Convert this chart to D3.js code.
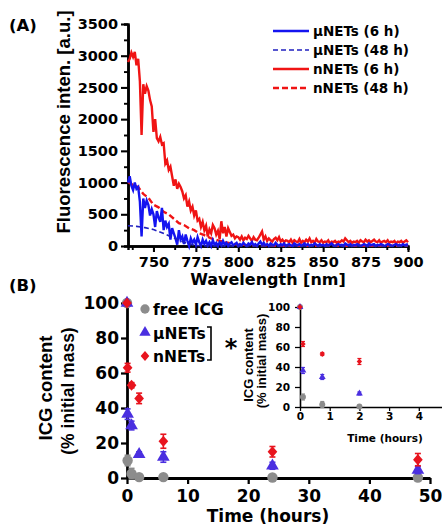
<!DOCTYPE html>
<html>
<head>
<meta charset="utf-8">
<script src="https://cdn.jsdelivr.net/npm/d3@7"></script>
<style>
  html, body { margin: 0; padding: 0; background: #fff; }
  svg { display: block; }
</style>
</head>
<body>
<svg id="chart" width="442" height="530"></svg>
<script>
/* ========================================
   (A) fluorescence spectra  /  (B) ICG retention
   ======================================== */

// ---- Panel A data: emission spectra (1 nm samples) ----
const wavelengths = [
  735, 736, 737, 738, 739, 740, 741, 742, 743, 744,
  745, 746, 747, 748, 749, 750, 751, 752, 753, 754,
  755, 756, 757, 758, 759, 760, 761, 762, 763, 764,
  765, 766, 767, 768, 769, 770, 771, 772, 773, 774,
  775, 776, 777, 778, 779, 780, 781, 782, 783, 784,
  785, 786, 787, 788, 789, 790, 791, 792, 793, 794,
  795, 796, 797, 798, 799, 800, 801, 802, 803, 804,
  805, 806, 807, 808, 809, 810, 811, 812, 813, 814,
  815, 816, 817, 818, 819, 820, 821, 822, 823, 824,
  825, 826, 827, 828, 829, 830, 831, 832, 833, 834,
  835, 836, 837, 838, 839, 840, 841, 842, 843, 844,
  845, 846, 847, 848, 849, 850, 851, 852, 853, 854,
  855, 856, 857, 858, 859, 860, 861, 862, 863, 864,
  865, 866, 867, 868, 869, 870, 871, 872, 873, 874,
  875, 876, 877, 878, 879, 880, 881, 882, 883, 884,
  885, 886, 887, 888, 889, 890, 891, 892, 893, 894,
  895, 896, 897, 898, 899, 900
];

const nNETs6h = [
  2900, 2950, 3050, 2980, 3060, 2850, 2950, 2600, 1750, 2550,
  2400, 2520, 2450, 2300, 2200, 1800, 2000, 1700, 1650, 1720,
  1600, 1620, 1300, 1350, 1200, 1250, 1100, 950, 1050, 900,
  980, 930, 860, 750, 800, 620, 700, 560, 620, 480,
  560, 400, 430, 300, 380, 250, 320, 150, 260, 200,
  330, 280, 180, 240, 110, 390, 200, 300, 150, 280,
  220, 160, 180, 120, 150, 140, 100, 150, 90, 130,
  110, 160, 120, 80, 140, 100, 90, 130, 180, 230,
  100, 150, 80, 120, 90, 70, 110, 130, 90, 140,
  70, 100, 60, 90, 80, 60, 100, 50, 90, 70,
  60, 110, 50, 80, 60, 100, 70, 120, 60, 80,
  50, 110, 70, 60, 90, 50, 70, 60, 90, 40,
  70, 60, 80, 50, 70, 60, 90, 70, 120, 90,
  60, 80, 50, 70, 60, 80, 50, 90, 70, 60,
  100, 70, 90, 60, 80, 100, 70, 60, 90, 50,
  70, 80, 60, 90, 50, 70, 60, 80, 40, 70,
  60, 80, 50, 70, 90, 60
];

const uNETs6h = [
  1000, 1100, 950, 880, 1000, 900, 930, 700, 150, 750,
  600, 720, 650, 480, 580, 500, 300, 550, 450, 380,
  600, 250, 400, 300, 350, 100, 280, 200, 120, 20,
  250, 100, 150, 30, 180, 80, 0, 120, 50, 100,
  20, 140, 60, 0, 100, 30, 80, 10, 60, 0,
  90, 20, 50, 0, 60, 10, 80, 20, 50, 0,
  40, 60, 10, 30, 50, 0, 30, 10, 50, 20,
  0, 40, 20, 60, 10, 30, 0, 40, 70, 20,
  50, 10, 30, 0, 40, 20, 10, 50, 20, 0,
  30, 10, 40, 0, 20, 30, 10, 0, 40, 20,
  10, 30, 0, 20, 40, 10, 30, 0, 20, 10,
  40, 20, 0, 30, 10, 20, 0, 30, 10, 20,
  40, 10, 0, 20, 30, 10, 20, 0, 40, 20,
  10, 30, 0, 20, 10, 30, 20, 0, 10, 30,
  20, 0, 40, 10, 20, 30, 0, 20, 10, 30,
  20, 0, 10, 30, 20, 10, 0, 20, 30, 10,
  20, 0, 30, 10, 20, 30
];

// 48 h spectra are smooth, sampled more coarsely
const wl48n = [735, 738, 741, 744, 747, 750, 753, 756, 759, 762, 765, 768, 771, 774, 777, 780, 784, 788, 792, 796, 800, 810, 820, 840, 860, 880, 900];
const nNETs48h = [1010, 960, 930, 820, 760, 650, 610, 540, 500, 430, 360, 330, 280, 250, 200, 170, 120, 90, 60, 40, 20, 10, 5, 5, 5, 5, 5];
const wl48u = [735, 740, 745, 750, 755, 760, 765, 770, 775, 780, 790, 800, 850, 900];
const uNETs48h = [320, 310, 290, 260, 210, 150, 90, 40, 10, 0, 0, 0, 0, 0];

const yTicksA = [0, 500, 1000, 1500, 2000, 2500, 3000, 3500];
const xTicksA = [750, 775, 800, 825, 850, 875, 900];

// ---- Panel B data: ICG content (% initial mass) ----
const times = [0, 0.1, 0.75, 2, 6, 24, 48];
const freeICG = [100, 10, 2.5, 0.5, 0.5, 0.3, 0.3];
const freeICGErr = [0, 3, 3, 0.5, 0.5, 0.3, 0.3];
const uNETs = [100, 36.5, 30, 13.5, 12, 7, 4.5];
const uNETsErr = [0, 3, 2.5, 1.5, 3, 2, 2];
const nNETs = [100, 63, 53, 45.5, 21, 15, 10.5];
const nNETsErr = [0, 2.5, 1.5, 3, 4, 3, 3.5];

const yTicksB = [0, 20, 40, 60, 80, 100];
const xTicksB = [0, 10, 20, 30, 40, 50];
const xTicksInset = [0, 1, 2, 3, 4];

// ---- styles ----
const wide = "'DejaVu Sans', sans-serif";
const narrow = "'Liberation Sans', Arial, sans-serif";
const BLUE = '#1414f0';
const RED = '#f01414';
const MBLUE = '#4a2fe0';
const MRED = '#e8141e';
const GRAY = '#8c8c8c';
const fmt = d3.format('d');

const svg = d3.select('#chart');
svg.append('rect').attr('width', 442).attr('height', 530).attr('fill', '#fff');

function styleAxis(g, size, width) {
    g.attr('font-family', wide)
        .attr('font-size', size)
        .attr('font-weight', 'bold');
    g.select('.domain').attr('stroke', '#000').attr('stroke-width', width);
    g.selectAll('.tick line').attr('stroke', '#000').attr('stroke-width', width * 0.8);
    g.selectAll('.tick text').attr('fill', '#000');
}

/* ================= Panel A ================= */
const xA = d3.scaleLinear().domain([735, 900]).range([128, 408]);
const yA = d3.scaleLinear().domain([0, 3500]).range([246, 24]);

const gA = svg.append('g');

// minor ticks
gA.append('g')
    .attr('transform', `translate(${xA.range()[0]},0)`)
    .call(d3.axisLeft(yA).tickValues(d3.range(250, 3500, 500)).tickSize(4).tickFormat(''))
    .call(g => styleAxis(g, 14, 2.4));
gA.append('g')
    .attr('transform', `translate(0,${yA(0)})`)
    .call(d3.axisBottom(xA).tickValues(d3.range(737.5, 900, 25)).tickSize(4).tickFormat(''))
    .call(g => styleAxis(g, 14, 2.4));

gA.append('g')
    .attr('transform', `translate(${xA.range()[0]},0)`)
    .call(d3.axisLeft(yA).tickValues(yTicksA).tickFormat(fmt).tickSize(7).tickPadding(3).tickSizeOuter(0))
    .call(g => styleAxis(g, 14.5, 2.6));

gA.append('g')
    .attr('transform', `translate(0,${yA(0)})`)
    .call(d3.axisBottom(xA).tickValues(xTicksA).tickFormat(fmt).tickSize(6).tickPadding(5).tickSizeOuter(0))
    .call(g => styleAxis(g, 14.5, 2.6));

// spectra
const lineA = (xs) => d3.line().x((d, i) => xA(xs[i])).y(d => yA(d));

gA.append('path').datum(nNETs6h)
    .attr('d', lineA(wavelengths))
    .attr('fill', 'none').attr('stroke', RED).attr('stroke-width', 2.4);
gA.append('path').datum(nNETs48h)
    .attr('d', lineA(wl48n))
    .attr('fill', 'none').attr('stroke', RED).attr('stroke-width', 2.4)
    .attr('stroke-dasharray', '6,3');
gA.append('path').datum(uNETs6h)
    .attr('d', lineA(wavelengths))
    .attr('fill', 'none').attr('stroke', BLUE).attr('stroke-width', 2.4);
gA.append('path').datum(uNETs48h)
    .attr('d', lineA(wl48u))
    .attr('fill', 'none').attr('stroke', '#2020c0').attr('stroke-width', 1.6)
    .attr('stroke-dasharray', '5,3');

// axis titles
svg.append('text')
    .attr('x', 268).attr('y', 285)
    .attr('text-anchor', 'middle')
    .attr('font-family', wide).attr('font-size', 16).attr('font-weight', 'bold')
    .text('Wavelength [nm]');
svg.append('text')
    .attr('transform', 'translate(70,122) rotate(-90)')
    .attr('text-anchor', 'middle')
    .attr('font-family', narrow).attr('font-size', 18.5).attr('font-weight', 'bold')
    .text('Fluorescence inten. [a.u.]');
svg.append('text')
    .attr('x', 9).attr('y', 31)
    .attr('font-family', wide).attr('font-size', 16.5).attr('font-weight', 'bold')
    .text('(A)');

// legend A
const legendA = [
    { label: 'μNETs (6 h)', color: BLUE, width: 2.6, dash: null },
    { label: 'μNETs (48 h)', color: '#2020c0', width: 1.6, dash: '5,3' },
    { label: 'nNETs (6 h)', color: RED, width: 2.6, dash: null },
    { label: 'nNETs (48 h)', color: RED, width: 2.4, dash: '6,3' }
];
const legA = svg.append('g').attr('transform', 'translate(273,31)');
legendA.forEach((d, i) => {
    const row = legA.append('g').attr('transform', `translate(0,${i * 19})`);
    row.append('line')
        .attr('x1', 0).attr('x2', 36)
        .attr('stroke', d.color).attr('stroke-width', d.width)
        .attr('stroke-dasharray', d.dash);
    row.append('text')
        .attr('x', 40).attr('y', 5)
        .attr('font-family', wide).attr('font-size', 13.5).attr('font-weight', 'bold')
        .text(d.label);
});

/* ================= Panel B ================= */
const xB = d3.scaleLinear().domain([0, 50]).range([127, 430]);
const yB = d3.scaleLinear().domain([0, 100]).range([478, 303]);

const gB = svg.append('g');

gB.append('g')
    .attr('transform', `translate(${xB(0)},0)`)
    .call(d3.axisLeft(yB).tickValues(yTicksB).tickFormat(fmt).tickSize(6).tickPadding(2).tickSizeOuter(0))
    .call(g => styleAxis(g, 17, 2.8));
gB.append('g')
    .attr('transform', `translate(0,${yB(0)})`)
    .call(d3.axisBottom(xB).tickValues(xTicksB).tickFormat(fmt).tickSize(6).tickPadding(6).tickSizeOuter(0))
    .call(g => styleAxis(g, 17, 2.8));

svg.append('text')
    .attr('x', 268).attr('y', 522)
    .attr('text-anchor', 'middle')
    .attr('font-family', wide).attr('font-size', 17).attr('font-weight', 'bold')
    .text('Time (hours)');
svg.append('text')
    .attr('transform', 'translate(52,388) rotate(-90)')
    .attr('text-anchor', 'middle')
    .attr('font-family', narrow).attr('font-size', 18.5).attr('font-weight', 'bold')
    .text('ICG content');
svg.append('text')
    .attr('transform', 'translate(74,391) rotate(-90)')
    .attr('text-anchor', 'middle')
    .attr('font-family', narrow).attr('font-size', 17.5).attr('font-weight', 'bold')
    .text('(% initial mass)');
svg.append('text')
    .attr('x', 9).attr('y', 291)
    .attr('font-family', wide).attr('font-size', 16.5).attr('font-weight', 'bold')
    .text('(B)');

// custom diamond, close to square
const diamond = {
    draw(ctx, size) {
        const r = Math.sqrt(size / 2);
        ctx.moveTo(0, -r * 1.1);
        ctx.lineTo(r * 0.95, 0);
        ctx.lineTo(0, r * 1.1);
        ctx.lineTo(-r * 0.95, 0);
        ctx.closePath();
    }
};

const seriesB = [
    { name: 'free ICG', values: freeICG, errs: freeICGErr, color: GRAY, type: d3.symbolCircle, size: 85, small: 28 },
    { name: 'μNETs', values: uNETs, errs: uNETsErr, color: MBLUE, type: d3.symbolTriangle, size: 70, small: 20 },
    { name: 'nNETs', values: nNETs, errs: nNETsErr, color: MRED, type: diamond, size: 52, small: 16 }
];

function drawPoints(g, xs, ys, maxT, small) {
    seriesB.forEach(s => {
        const pts = times.map((t, i) => ({ t, v: s.values[i], e: s.errs[i] }))
            .filter(d => d.t <= maxT);
        const cap = small ? 2 : 3;
        const eg = g.append('g').attr('stroke', s.color).attr('stroke-width', small ? 1.2 : 1.6);
        pts.filter(d => d.e > 0).forEach(d => {
            eg.append('line')
                .attr('x1', xs(d.t)).attr('x2', xs(d.t))
                .attr('y1', ys(d.v - d.e)).attr('y2', ys(d.v + d.e));
            [d.v - d.e, d.v + d.e].forEach(v => {
                eg.append('line')
                    .attr('x1', xs(d.t) - cap).attr('x2', xs(d.t) + cap)
                    .attr('y1', ys(v)).attr('y2', ys(v));
            });
        });
        g.append('g').selectAll('path')
            .data(pts)
            .join('path')
            .attr('transform', d => `translate(${xs(d.t)},${ys(d.v)})`)
            .attr('d', d3.symbol().type(s.type).size(small ? s.small : s.size))
            .attr('fill', s.color);
    });
}

drawPoints(gB.append('g'), xB, yB, 50, false);

// legend B
const legB = svg.append('g');
seriesB.forEach((s, i) => {
    const y = 309 + i * 23.5;
    legB.append('path')
        .attr('transform', `translate(145,${y})`)
        .attr('d', d3.symbol().type(s.type).size(s.size * 0.8))
        .attr('fill', s.color);
    legB.append('text')
        .attr('x', 153).attr('y', y + 6)
        .attr('font-family', wide).attr('font-size', 15.5).attr('font-weight', 'bold')
        .text(s.name);
});
legB.append('path')
    .attr('d', 'M207,327H211V360H207')
    .attr('fill', 'none').attr('stroke', '#000').attr('stroke-width', 1.6);
legB.append('text')
    .attr('x', 231).attr('y', 356)
    .attr('text-anchor', 'middle')
    .attr('font-family', wide).attr('font-size', 24).attr('font-weight', 'bold')
    .text('*');

/* ================= Inset ================= */
const xI = d3.scaleLinear().domain([0, 5]).range([300, 448.5]);
const yI = d3.scaleLinear().domain([0, 100]).range([407, 307]);
const gI = svg.append('g');

gI.append('g')
    .attr('transform', `translate(${xI(0)},0)`)
    .call(d3.axisLeft(yI).tickValues(yTicksB).tickFormat(fmt).tickSize(5).tickPadding(5).tickSizeOuter(0))
    .call(g => styleAxis(g, 10.5, 1.6));
gI.append('g')
    .attr('transform', `translate(0,${yI(0)})`)
    .call(d3.axisBottom(xI).tickValues(xTicksInset).tickFormat(fmt).tickSize(4).tickPadding(2).tickSizeOuter(0))
    .call(g => styleAxis(g, 10.5, 1.6));

svg.append('text')
    .attr('x', 385).attr('y', 442)
    .attr('text-anchor', 'middle')
    .attr('font-family', wide).attr('font-size', 10.5).attr('font-weight', 'bold')
    .text('Time (hours)');
svg.append('text')
    .attr('transform', 'translate(253,365) rotate(-90)')
    .attr('text-anchor', 'middle')
    .attr('font-family', narrow).attr('font-size', 13).attr('font-weight', 'bold')
    .text('ICG content');
svg.append('text')
    .attr('transform', 'translate(266,361) rotate(-90)')
    .attr('text-anchor', 'middle')
    .attr('font-family', narrow).attr('font-size', 13).attr('font-weight', 'bold')
    .text('(% initial mass)');

drawPoints(gI.append('g'), xI, yI, 5, true);
</script>
</body>
</html>
